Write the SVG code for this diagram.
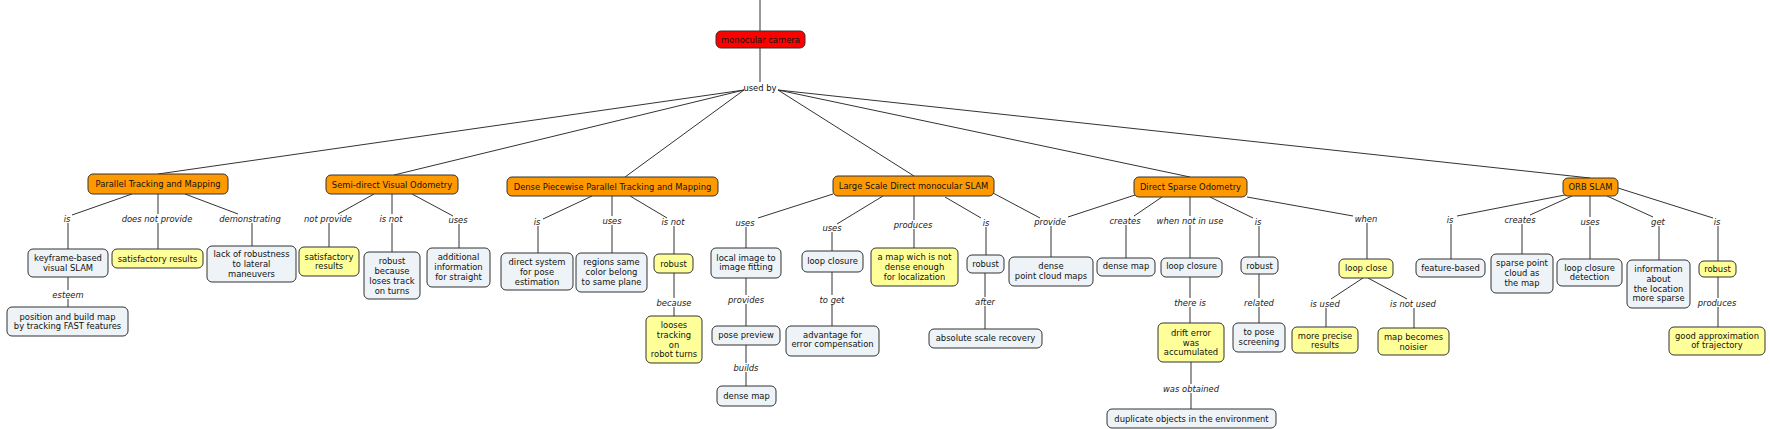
<svg xmlns="http://www.w3.org/2000/svg" width="1770" height="429" viewBox="0 0 1770 429">
<style>
rect{stroke:#333;stroke-width:1;rx:5px;ry:5px}
.o{fill:#ff9900}.y{fill:#ffff99}.g{fill:#edf3f6}.r{fill:#ff0000}
text{font-family:"DejaVu Sans",Verdana,sans-serif;font-size:8.4px;fill:#111;text-anchor:middle}
.l{font-style:italic;fill:#222}
.c path{stroke:#333;stroke-width:1;fill:none}
</style>
<rect width="1770" height="429" fill="#fff" style="stroke:none"/>
<g class="c" id="connectors">
<path d="M760,0V31M760,48V82"/>
<path d="M744,90L158,174M744,90L394,175M744,90L625,177M778,90L914,176M778,90L1190,177M778,90L1590,178"/>
<path d="M132,194L72,215M68,223V249M68,277V290M68,299V307M158,194V214M158,223V249M185,194L238,214M252,223V246"/>
<path d="M374,194L338,214M329,223V247M392,194V214M392,223V252M412,194L453,216M459,224V248"/>
<path d="M592,196L543,219M538,226V253M612,196V216M612,225V253M630,196L667,218M674,226V254M674,273V298M674,307V316"/>
<path d="M833,194L758,218M746,227V248M746,278V295M746,304V326M746,345V363M746,372V386M883,196L837,224M832,232V251M832,272V295M832,304V326M914,196V220M914,229V248M945,197L981,218M986,227V255M985,273V297M985,306V329"/>
<path d="M993,193L1040,218M1135,195L1068,217M1051,226V257M1162,197L1134,216M1126,225V258M1190,197V216M1190,225V258M1190,277V298M1190,307V323M1191,362V384M1191,393V409M1210,197L1253,218M1259,226V257M1259,274V298M1259,307V323M1247,197L1353,216M1367,223V259M1363,278L1331,299M1326,308V327M1368,278L1407,299M1414,308V328"/>
<path d="M1570,194L1457,216M1451,224V259M1572,196L1530,215M1522,224V254M1590,196V217M1590,226V259M1607,196L1653,217M1659,226V260M1618,188L1713,218M1718,226V261M1718,277V298M1718,307V327"/>
</g>
<g id="labels">
<text x="760" y="91">used by</text>
<text class="l" x="67" y="222">is</text>
<text class="l" x="68" y="298">esteem</text>
<text class="l" x="157" y="222">does not provide</text>
<text class="l" x="250" y="222">demonstrating</text>
<text class="l" x="328" y="222">not provide</text>
<text class="l" x="391" y="222">is not</text>
<text class="l" x="458" y="223">uses</text>
<text class="l" x="537" y="225">is</text>
<text class="l" x="612" y="224">uses</text>
<text class="l" x="673" y="225">is not</text>
<text class="l" x="674" y="306">because</text>
<text class="l" x="745" y="226">uses</text>
<text class="l" x="746" y="303">provides</text>
<text class="l" x="746" y="371">builds</text>
<text class="l" x="832" y="231">uses</text>
<text class="l" x="832" y="303">to get</text>
<text class="l" x="913" y="228">produces</text>
<text class="l" x="986" y="226">is</text>
<text class="l" x="985" y="305">after</text>
<text class="l" x="1050" y="225">provide</text>
<text class="l" x="1125" y="224">creates</text>
<text class="l" x="1190" y="224">when not in use</text>
<text class="l" x="1190" y="306">there is</text>
<text class="l" x="1191" y="392">was obtained</text>
<text class="l" x="1258" y="225">is</text>
<text class="l" x="1259" y="306">related</text>
<text class="l" x="1366" y="222">when</text>
<text class="l" x="1325" y="307">is used</text>
<text class="l" x="1413" y="307">is not used</text>
<text class="l" x="1450" y="223">is</text>
<text class="l" x="1520" y="223">creates</text>
<text class="l" x="1590" y="225">uses</text>
<text class="l" x="1658" y="225">get</text>
<text class="l" x="1717" y="225">is</text>
<text class="l" x="1717" y="306">produces</text>
</g>
<g id="n-mono"><rect class="r" x="716" y="31" width="89" height="17"/><text x="760.5" y="43">monocular camera</text></g>
<g id="n-ptam"><rect class="o" x="88" y="174" width="140" height="20"/><text x="158" y="187">Parallel Tracking and Mapping</text></g>
<g id="n-svo"><rect class="o" x="326" y="175" width="132" height="19"/><text x="392" y="187.5">Semi-direct Visual Odometry</text></g>
<g id="n-dpptam"><rect class="o" x="507" y="177" width="211" height="19"/><text x="612.5" y="189.5">Dense Piecewise Parallel Tracking and Mapping</text></g>
<g id="n-lsd"><rect class="o" x="833" y="176" width="161" height="20"/><text x="913.5" y="189">Large Scale Direct monocular SLAM</text></g>
<g id="n-dso"><rect class="o" x="1134" y="177" width="113" height="20"/><text x="1190.5" y="190">Direct Sparse Odometry</text></g>
<g id="n-orb"><rect class="o" x="1563" y="178" width="55" height="18"/><text x="1590.5" y="190">ORB SLAM</text></g>
<g id="n-keyframe"><rect class="g" x="28" y="249" width="80" height="28"/><text x="68" y="261">keyframe-based</text><text x="68" y="271">visual SLAM</text></g>
<g id="n-position"><rect class="g" x="7" y="307" width="121" height="29"/><text x="67.5" y="320">position and build map</text><text x="67.5" y="329">by tracking FAST features</text></g>
<g id="n-sat1"><rect class="y" x="112" y="249" width="91" height="19"/><text x="157.5" y="262">satisfactory results</text></g>
<g id="n-lack"><rect class="g" x="207" y="246" width="89" height="36"/><text x="251.5" y="257">lack of robustness</text><text x="251.5" y="267">to lateral</text><text x="251.5" y="277">maneuvers</text></g>
<g id="n-sat2"><rect class="y" x="299" y="247" width="60" height="29"/><text x="329" y="260">satisfactory</text><text x="329" y="269">results</text></g>
<g id="n-robust1"><rect class="g" x="364" y="252" width="56" height="47"/><text x="392" y="264">robust</text><text x="392" y="274">because</text><text x="392" y="284">loses track</text><text x="392" y="294">on turns</text></g>
<g id="n-additional"><rect class="g" x="427" y="248" width="63" height="39"/><text x="458.5" y="260">additional</text><text x="458.5" y="270">information</text><text x="458.5" y="280">for straight</text></g>
<g id="n-direct"><rect class="g" x="501" y="253" width="72" height="37"/><text x="537" y="265">direct system</text><text x="537" y="275">for pose</text><text x="537" y="285">estimation</text></g>
<g id="n-regions"><rect class="g" x="576" y="253" width="71" height="39"/><text x="611.5" y="265">regions same</text><text x="611.5" y="275">color belong</text><text x="611.5" y="285">to same plane</text></g>
<g id="n-robust2"><rect class="y" x="654" y="254" width="39" height="19"/><text x="673.5" y="267">robust</text></g>
<g id="n-looses"><rect class="y" x="646" y="316" width="56" height="47"/><text x="674" y="328">looses</text><text x="674" y="338">tracking</text><text x="674" y="348">on</text><text x="674" y="357">robot turns</text></g>
<g id="n-local"><rect class="g" x="711" y="248" width="70" height="30"/><text x="746" y="261">local image to</text><text x="746" y="270">image fitting</text></g>
<g id="n-pose"><rect class="g" x="712" y="326" width="68" height="19"/><text x="746" y="338">pose preview</text></g>
<g id="n-densemap1"><rect class="g" x="717" y="386" width="59" height="20"/><text x="746.5" y="399">dense map</text></g>
<g id="n-loop1"><rect class="g" x="802" y="251" width="61" height="21"/><text x="832.5" y="264">loop closure</text></g>
<g id="n-advantage"><rect class="g" x="786" y="326" width="93" height="30"/><text x="832.5" y="338">advantage for</text><text x="832.5" y="347">error compensation</text></g>
<g id="n-amap"><rect class="y" x="871" y="248" width="87" height="38"/><text x="914.5" y="260">a map wich is not</text><text x="914.5" y="270">dense enough</text><text x="914.5" y="280">for localization</text></g>
<g id="n-robust3"><rect class="g" x="967" y="255" width="37" height="18"/><text x="985.5" y="267">robust</text></g>
<g id="n-absolute"><rect class="g" x="929" y="329" width="113" height="19"/><text x="985.5" y="341">absolute scale recovery</text></g>
<g id="n-densepc"><rect class="g" x="1009" y="257" width="84" height="29"/><text x="1051" y="269">dense</text><text x="1051" y="279">point cloud maps</text></g>
<g id="n-densemap2"><rect class="g" x="1097" y="258" width="58" height="18"/><text x="1126" y="269">dense map</text></g>
<g id="n-loop2"><rect class="g" x="1161" y="258" width="61" height="19"/><text x="1191.5" y="269">loop closure</text></g>
<g id="n-drift"><rect class="y" x="1158" y="323" width="66" height="39"/><text x="1191" y="336">drift error</text><text x="1191" y="346">was</text><text x="1191" y="355">accumulated</text></g>
<g id="n-duplicate"><rect class="g" x="1107" y="409" width="169" height="19"/><text x="1191.5" y="422">duplicate objects in the environment</text></g>
<g id="n-robust4"><rect class="g" x="1241" y="257" width="37" height="17"/><text x="1259.5" y="269">robust</text></g>
<g id="n-topose"><rect class="g" x="1233" y="323" width="52" height="29"/><text x="1259" y="335">to pose</text><text x="1259" y="345">screening</text></g>
<g id="n-loopclose"><rect class="y" x="1339" y="259" width="54" height="19"/><text x="1366" y="271">loop close</text></g>
<g id="n-precise"><rect class="y" x="1292" y="327" width="66" height="26"/><text x="1325" y="339">more precise</text><text x="1325" y="348">results</text></g>
<g id="n-noisier"><rect class="y" x="1378" y="328" width="71" height="27"/><text x="1413.5" y="340">map becomes</text><text x="1413.5" y="350">noisier</text></g>
<g id="n-feature"><rect class="g" x="1416" y="259" width="69" height="18"/><text x="1450.5" y="271">feature-based</text></g>
<g id="n-sparse"><rect class="g" x="1491" y="254" width="62" height="39"/><text x="1522" y="266">sparse point</text><text x="1522" y="276">cloud as</text><text x="1522" y="286">the map</text></g>
<g id="n-loopdet"><rect class="g" x="1557" y="259" width="65" height="27"/><text x="1589.5" y="271">loop closure</text><text x="1589.5" y="280">detection</text></g>
<g id="n-info"><rect class="g" x="1627" y="260" width="63" height="48"/><text x="1658.5" y="272">information</text><text x="1658.5" y="282">about</text><text x="1658.5" y="292">the location</text><text x="1658.5" y="301">more sparse</text></g>
<g id="n-robust5"><rect class="y" x="1699" y="261" width="37" height="16"/><text x="1717.5" y="272">robust</text></g>
<g id="n-good"><rect class="y" x="1669" y="327" width="96" height="28"/><text x="1717" y="339">good approximation</text><text x="1717" y="348">of trajectory</text></g>
</svg>
